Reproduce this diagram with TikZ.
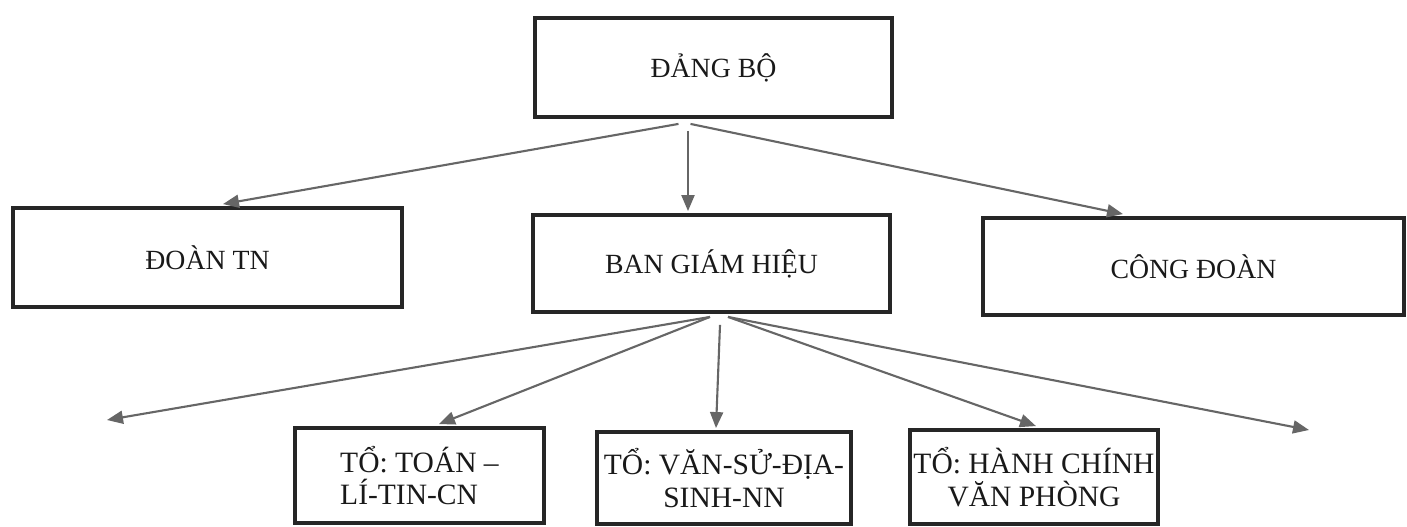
\documentclass[tikz,border=0pt]{standalone}
\usepackage{fontspec}
\setmainfont{Liberation Serif}
\usetikzlibrary{arrows.meta,calc}
\begin{document}
\begin{tikzpicture}[x=0.02cm,y=-0.02cm,
  box/.style={draw=black!85, line width=2.2pt, inner sep=0pt,
    font=\fontsize{15.8}{19}\selectfont, text=black!90},
  smallbox/.style={box, font=\fontsize{16.8}{18.7}\selectfont, align=center},
  conn/.style={draw=black!60, line width=1.2pt,
    -{Triangle[length=0.32cm,width=0.26cm]}}]
\useasboundingbox (0,0) rectangle (1407,527);
% boxes
\node[box, minimum width=7.14cm, minimum height=1.98cm] (dang) at (713.5,67.5) {ĐẢNG BỘ};
\node[box, minimum width=7.78cm, minimum height=1.98cm] (doan) at (207.5,257.5) {ĐOÀN TN};
\node[box, minimum width=7.14cm, minimum height=1.94cm] (bgh) at (711.5,263.5) {BAN GIÁM HIỆU};
\node[box, minimum width=8.42cm, minimum height=1.94cm] (cong) at (1193.5,266.5) {CÔNG ĐOÀN};
\node[smallbox, align=left, minimum width=4.98cm, minimum height=1.9cm] (toan) at (419.5,475.5) {TỔ: TOÁN –\\LÍ-TIN-CN};
\node[smallbox, minimum width=5.08cm, minimum height=1.84cm] (van) at (724,478) {TỔ: VĂN-SỬ-ĐỊA-\\SINH-NN};
\node[smallbox, minimum width=4.96cm, minimum height=1.88cm] (hc) at (1034,477) {TỔ: HÀNH CHÍNH\\VĂN PHÒNG};
% free ends
\coordinate (freeL) at (107,420);
\coordinate (freeR) at (1309,430);
% connectors from Dang bo
\draw[conn] ($(dang.south)+(-35,5)$) -- ($(doan.north)+(15.5,-2)$);
\draw[conn] ($(dang.south)+(-25.5,12)$) -- ($(bgh.north)+(-23.5,-2)$);
\draw[conn] ($(dang.south)+(-23,5)$) -- ($(cong.north)+(-70.5,-2)$);
% connectors from Ban giam hieu
\draw[conn] ($(bgh.south)+(-1.5,3)$) -- (freeL);
\draw[conn] ($(bgh.south)+(-1.5,3)$) -- ($(toan.north)+(19.5,-2)$);
\draw[conn] ($(bgh.south)+(8.5,11)$) -- ($(van.north)+(-8,-2)$);
\draw[conn] ($(bgh.south)+(16.5,3)$) -- ($(hc.north)+(2,-2)$);
\draw[conn] ($(bgh.south)+(16.5,3)$) -- (freeR);
\end{tikzpicture}
\end{document}
